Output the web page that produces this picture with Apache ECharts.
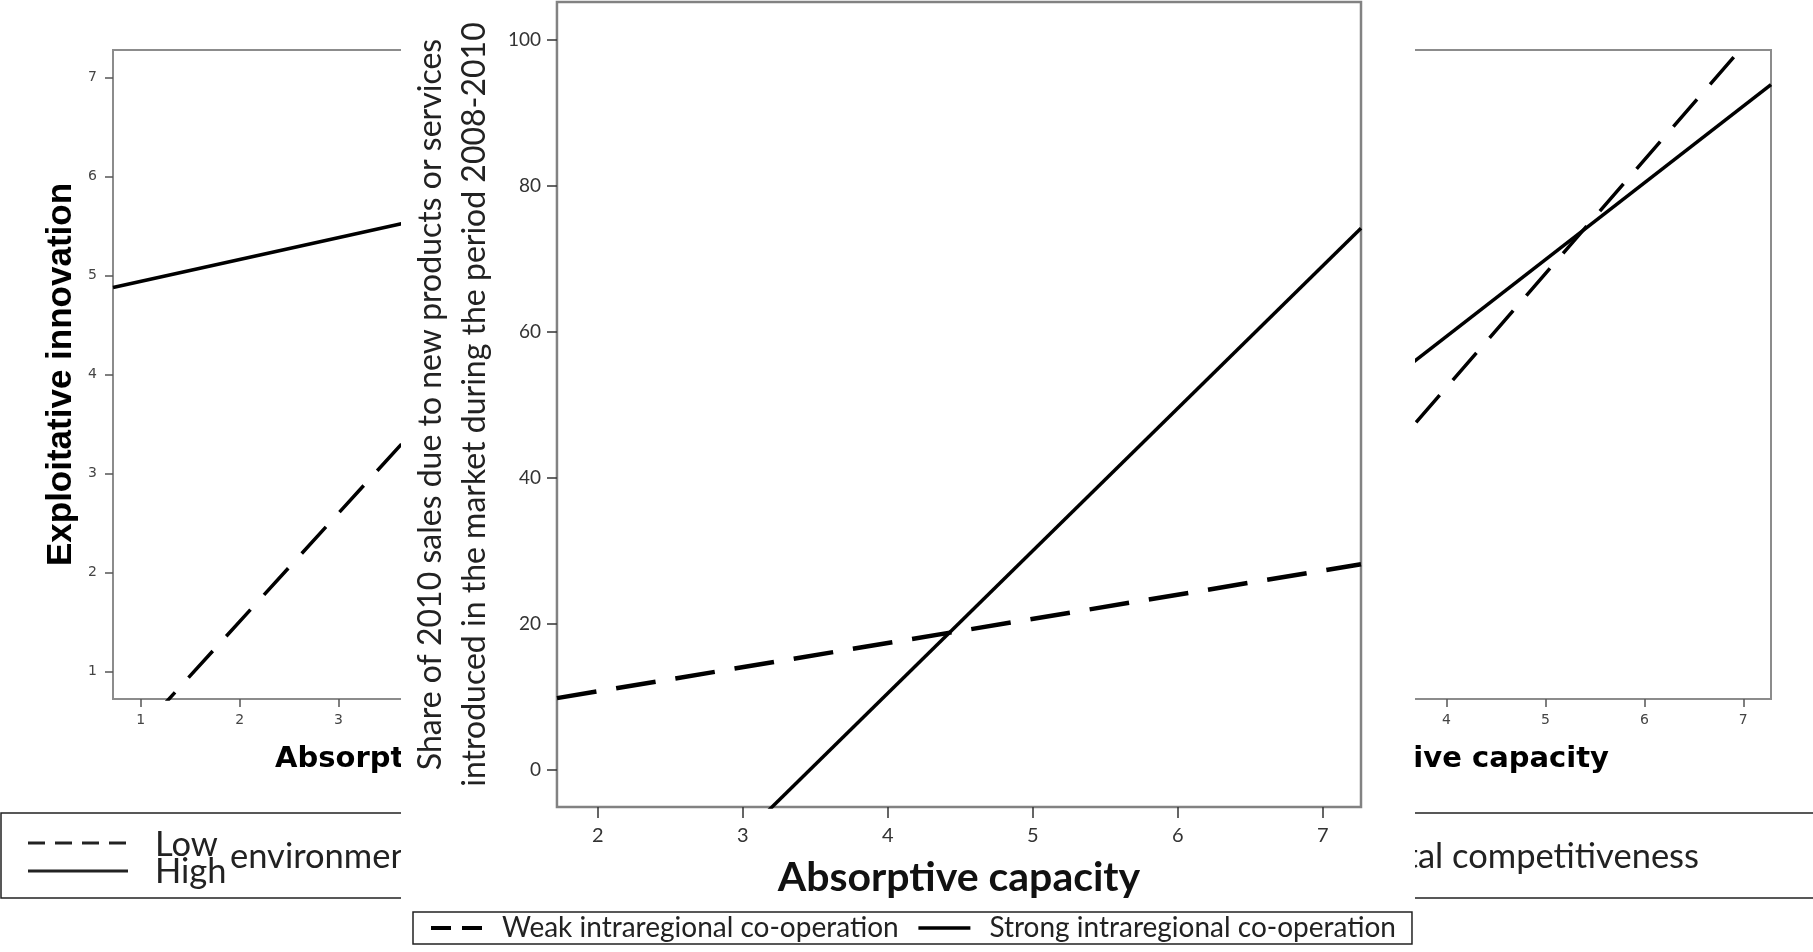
<!DOCTYPE html>
<html>
<head>
<meta charset="utf-8">
<script src="https://cdn.jsdelivr.net/npm/echarts@6.0.0/dist/echarts.min.js"></script>
<style>
  html, body { margin: 0; padding: 0; background: #fff; }
  #bg { position: absolute; left: 0; top: 0; width: 1813px; height: 952px; }
  #mid { position: absolute; left: 401px; top: 0; width: 1014px; height: 952px; background: #fff; }
</style>
</head>
<body>
<div id="bg"></div>
<div id="mid"></div>
<script>
// ---------- background panels (environmental competitiveness) ----------
const bgTicks = [1, 2, 3, 4, 5, 6, 7];
const bgEdgeX = [0.72, 7.28];              // x values at the plot edges
const leftLow = [0.10, 7.29];              // Exploitative innovation, low competitiveness
const leftHigh = [4.88, 6.33];             // Exploitative innovation, high competitiveness
const rightLow = [0.10, 7.64];             // right panel, low
const rightHigh = [1.84, 6.93];            // right panel, high
const bgLegendNames = ['Low', 'High'];
const bgLegendTitle = 'environmental competitiveness';
const bgXTitle = 'Absorptive capacity';
const bgYTitleLeft = 'Exploitative innovation';

// ---------- middle panel (intraregional co-operation) ----------
const midXTicks = [2, 3, 4, 5, 6, 7];
const midYTicks = [0, 20, 40, 60, 80, 100];
const midEdgeX = [1.719, 7.263];
const weakCoop = [9.85, 28.2];
const strongCoop = [-34.0, 74.2];
const midNames = ['Weak intraregional co-operation', 'Strong intraregional co-operation'];
const midXTitle = 'Absorptive capacity';
const midYTitle = ['Share of 2010 sales due to new products or services',
                   'introduced in the market during the period 2008-2010'];

function pts(xs, ys) { return xs.map((x, i) => [x, ys[i]]); }

const frameColor = '#8c8c8c';
const DASH_BG = [36, 20];

function bgXAxis(gi) {
  return {
    type: 'value', gridIndex: gi, min: 0.72, max: 7.28,
    axisLine: { show: false, onZero: false },
    axisTick: { show: true, length: 8, customValues: bgTicks, lineStyle: { color: '#555', width: 1.5 } },
    axisLabel: { customValues: bgTicks, margin: 14, fontFamily: 'DejaVu Sans', fontSize: 14, color: '#444' },
    splitLine: { show: false },
    name: bgXTitle, nameLocation: 'middle', nameGap: 46,
    nameTextStyle: { fontFamily: 'DejaVu Sans', fontWeight: 'bold', fontSize: 29, color: '#000' }
  };
}
function bgYAxis(gi, name) {
  const a = {
    type: 'value', gridIndex: gi, min: 0.72, max: 7.28,
    axisLine: { show: false, onZero: false },
    axisTick: { show: true, length: 8, customValues: bgTicks, lineStyle: { color: '#555', width: 1.5 } },
    axisLabel: { customValues: bgTicks, margin: 16, fontFamily: 'DejaVu Sans', fontSize: 14, color: '#444' },
    splitLine: { show: false }
  };
  if (name) {
    a.name = name; a.nameLocation = 'middle'; a.nameGap = 34;
    a.nameTextStyle = { fontFamily: 'Liberation Sans', fontWeight: 'bold', fontSize: 35, color: '#000' };
  }
  return a;
}
function bgLine(name, xi, ys, dashed) {
  return {
    type: 'line', name: name, xAxisIndex: xi, yAxisIndex: xi, data: pts(bgEdgeX, ys),
    symbol: 'none', clip: true, silent: true, color: '#000',
    lineStyle: { color: '#000', width: 3.5, type: dashed ? DASH_BG : 'solid' }
  };
}

// legend sample: four short dashes for "Low", one solid stroke for "High"
const legendDashes = [];
for (let i = 0; i < 4; i++) {
  const x0 = 28 + i * 27;
  legendDashes.push({ type: 'line', shape: { x1: x0, y1: 843, x2: x0 + 17, y2: 843 },
    style: { stroke: '#222', lineWidth: 3 }, silent: true });
}

const bg = echarts.init(document.getElementById('bg'), null, { renderer: 'canvas' });
bg.setOption({
  animation: false,
  backgroundColor: '#fff',
  grid: [
    { left: 113, top: 50, width: 649, height: 649, show: true, borderColor: frameColor, borderWidth: 2, backgroundColor: 'transparent' },
    { left: 1122, top: 50, width: 649, height: 649, show: true, borderColor: frameColor, borderWidth: 2, backgroundColor: 'transparent' }
  ],
  xAxis: [bgXAxis(0), bgXAxis(1)],
  yAxis: [bgYAxis(0, bgYTitleLeft), bgYAxis(1, null)],
  series: [
    bgLine(bgLegendNames[0], 0, leftLow, true),
    bgLine(bgLegendNames[1], 0, leftHigh, false),
    bgLine(bgLegendNames[0], 1, rightLow, true),
    bgLine(bgLegendNames[1], 1, rightHigh, false)
  ],
  graphic: [
    { type: 'rect', shape: { x: 1, y: 813, width: 1900, height: 85 }, style: { fill: 'none', stroke: '#222', lineWidth: 1.5 }, silent: true },
    ...legendDashes,
    { type: 'line', shape: { x1: 28, y1: 871, x2: 128, y2: 871 }, style: { stroke: '#222', lineWidth: 3 }, silent: true },
    { type: 'text', x: 155, y: 845, style: { text: bgLegendNames[0], font: '34.5px Lato', fill: '#222', verticalAlign: 'middle' }, silent: true },
    { type: 'text', x: 155, y: 872, style: { text: bgLegendNames[1], font: '34.5px Lato', fill: '#222', verticalAlign: 'middle' }, silent: true },
    { type: 'text', x: 230, y: 857, style: { text: bgLegendTitle, font: '34.5px Lato', fill: '#222', verticalAlign: 'middle' }, silent: true },
    { type: 'text', x: 1699, y: 857, style: { text: bgLegendTitle, font: '34.5px Lato', fill: '#222', align: 'right', verticalAlign: 'middle' }, silent: true }
  ]
});

// ---------- middle chart ----------
const mid = echarts.init(document.getElementById('mid'), null, { renderer: 'canvas' });
mid.setOption({
  animation: false,
  backgroundColor: '#fff',
  grid: { left: 152, top: 2, width: 808, height: 805, show: true, borderColor: '#828282', borderWidth: 2.5, backgroundColor: 'transparent' },
  xAxis: {
    type: 'value', min: midEdgeX[0], max: midEdgeX[1],
    axisLine: { show: false, onZero: false },
    axisTick: { show: true, length: 11, customValues: midXTicks, lineStyle: { color: '#333', width: 1.5 } },
    axisLabel: { customValues: midXTicks, margin: 19, fontFamily: 'Lato', fontSize: 20, color: '#333' },
    splitLine: { show: false },
    name: midXTitle, nameLocation: 'middle', nameGap: 50,
    nameTextStyle: { fontFamily: 'Lato', fontWeight: 'bold', fontSize: 41, color: '#111' }
  },
  yAxis: {
    type: 'value', min: -5.06, max: 105.2,
    axisLine: { show: false, onZero: false },
    axisTick: { show: true, length: 10, customValues: midYTicks, lineStyle: { color: '#333', width: 1.5 } },
    axisLabel: { customValues: midYTicks, margin: 16, fontFamily: 'Lato', fontSize: 19, color: '#333' },
    splitLine: { show: false },
    name: midYTitle.join('\n'), nameLocation: 'middle', nameGap: 58,
    nameTextStyle: { fontFamily: 'Lato', fontSize: 32, color: '#222', lineHeight: 44 }
  },
  legend: {
    left: 12, top: 912, width: 1000, orient: 'horizontal',
    padding: [2, 16, 2, 16], itemGap: 18, itemWidth: 52, itemHeight: 14,
    borderColor: '#222', borderWidth: 1.5, backgroundColor: '#fff',
    itemStyle: { opacity: 0, borderWidth: 0 },
    textStyle: { fontFamily: 'Lato', fontSize: 28, color: '#222', padding: [0, 0, 0, 14] },
    data: [
      { name: midNames[0], lineStyle: { type: [20, 11], width: 4, color: '#000' } },
      { name: midNames[1], lineStyle: { width: 3.5, color: '#000' } }
    ]
  },
  series: [
    { type: 'line', name: midNames[0], data: pts(midEdgeX, weakCoop), symbol: 'none', clip: true, color: '#000',
      lineStyle: { color: '#000', width: 4.5, type: [40, 20] } },
    { type: 'line', name: midNames[1], data: pts(midEdgeX, strongCoop), symbol: 'none', clip: true, color: '#000',
      lineStyle: { color: '#000', width: 3.5, type: 'solid' } }
  ]
});
</script>
</body>
</html>
